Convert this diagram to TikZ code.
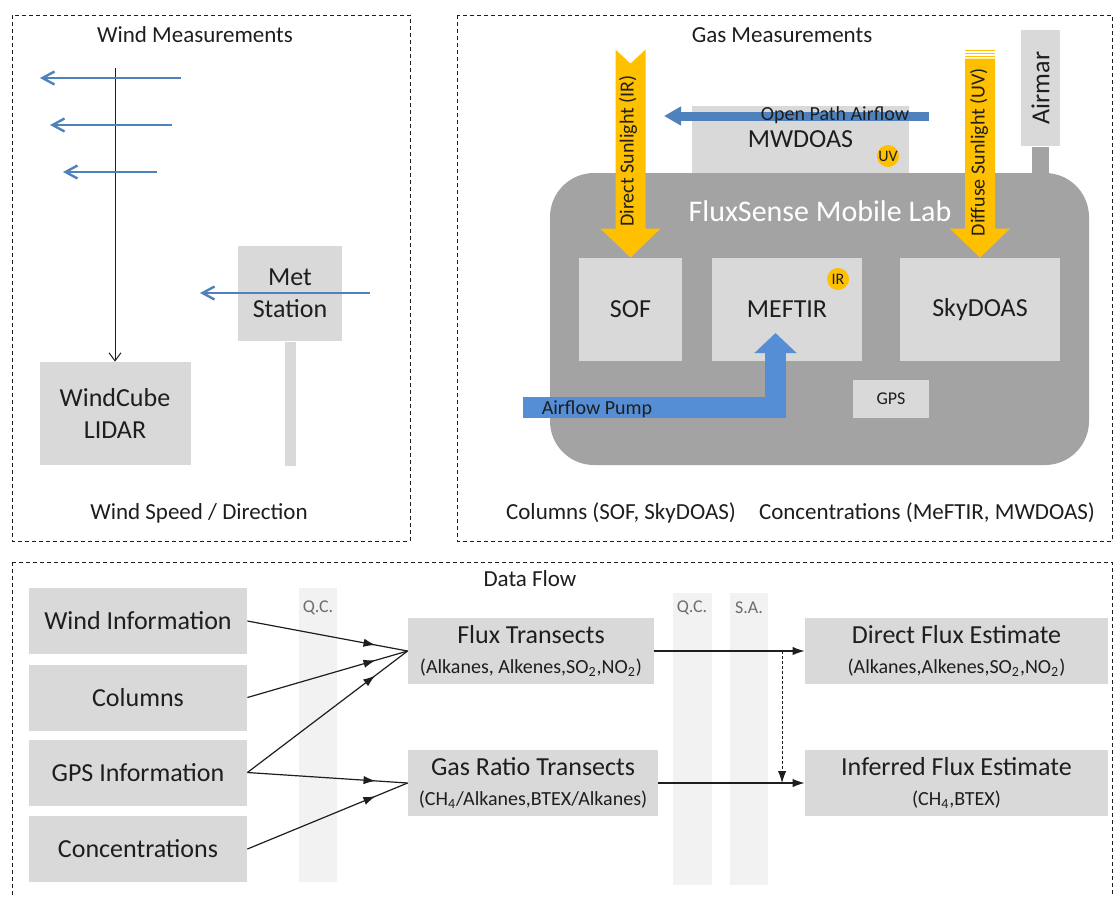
\documentclass[tikz,border=0pt]{standalone}
\usepackage{fontspec}
\setmainfont{Carlito}
\usetikzlibrary{arrows.meta,calc,decorations.markings}
\definecolor{ink}{RGB}{30,30,30}
\definecolor{panel}{RGB}{217,217,217}
\definecolor{chassis}{RGB}{163,163,163}
\definecolor{strip}{RGB}{242,242,242}
\definecolor{sun}{RGB}{255,192,0}
\definecolor{breeze}{RGB}{79,129,189}
\definecolor{pump}{RGB}{85,142,213}
\newcommand{\species}[1]{{\fontsize{10}{12}\selectfont #1}}
\tikzset{
  frame/.style={draw=ink,line width=0.5pt,dash pattern=on 2pt off 1.5pt},
  head/.style={font=\fontsize{11.5}{13}\selectfont,text=ink},
  unit/.style={fill=panel,inner sep=0pt,align=center,text=ink,font=\fontsize{13}{16}\selectfont},
  twoline/.style={unit,font=\fontsize{13}{15}\selectfont},
  band/.style={fill=strip,inner sep=0pt},
  tag/.style={font=\fontsize{9}{10}\selectfont,text=ink!65},
  badge/.style={circle,fill=sun,inner sep=0pt,minimum size=11pt,font=\fontsize{8}{8}\selectfont,text=ink},
  caption/.style={font=\fontsize{10}{12}\selectfont,text=ink},
  wind/.style={breeze,line width=1.2pt,-{Straight Barb[length=6pt,width=6.5pt]}},
  feed/.style={ink,line width=0.6pt,postaction={decorate},
    decoration={markings,mark=at position 0.8 with {\arrow{Latex[length=6pt,width=4.2pt]}}}},
  flow/.style={ink,line width=0.6pt,-{Latex[length=6pt,width=4.2pt]}},
  % light beams, tip at the origin
  pics/beam/.style={code={
    \fill[sun] (0,0) -- (-30,-29) -- (-15,-29) -- (-15,-208) -- (0,-194) -- (15,-208) -- (15,-29) -- (30,-29) -- cycle;
  }},
  pics/striped beam/.style={code={
    \fill[sun] (0,0) -- (-30,-29) -- (-15,-29) -- (-15,-199) -- (15,-199) -- (15,-29) -- (30,-29) -- cycle;
    \foreach \s in {200.5,203.5,206.5} \fill[sun] (-15,-\s) rectangle (15,-\s-1.5);
  }},
}
\begin{document}
\begin{tikzpicture}[x=0.5pt,y=-0.5pt]
  \useasboundingbox (0,0) rectangle (1114,896);
  \clip (0,0) rectangle (1114,896);
  \fill[white] (0,0) rectangle (1114,896);

  % wind measurements
  \draw[frame] (12,15) rectangle (410,541);
  \node[head] (windhead) at (195,35) {Wind Measurements};
  \node[unit,minimum width=52pt,minimum height=47.5pt] (met) at (290,293.5) {Met\\Station};
  \node[fill=panel,inner sep=0pt,minimum width=5.5pt,minimum height=62pt,anchor=north] (pole) at (met.south) {};
  \node[unit,minimum width=75.5pt,minimum height=51.5pt] (lidar) at (115,413.5) {WindCube\\LIDAR};
  \coordinate (mast) at (115,68);
  \draw[ink,line width=0.5pt,-{Straight Barb[length=4pt,width=6pt]}] (mast) -- (lidar);
  \foreach \y/\a/\b [count=\i] in {78/181/40,125/172/50,172/157/63}{
    \coordinate (gust\i) at (\a,\y); \coordinate (lull\i) at (\b,\y);
    \draw[wind] (gust\i) -- (lull\i);}
  \coordinate (metin) at (370,293); \coordinate (metout) at (200,293);
  \draw[wind] (metin) -- (metout);
  \node[head] (windfoot) at (199,513) {Wind Speed / Direction};

  % gas measurements
  \draw[frame] (457,15) rectangle (1112,541);
  \node[head] (gashead) at (782,35) {Gas Measurements};
  \node[unit,minimum width=108.5pt,minimum height=33.5pt] (mwdoas) at (800.5,139.5) {MWDOAS};
  \node[unit,rotate=90,minimum width=58pt,minimum height=19.5pt] (airmar) at (1040.5,88) {Airmar};
  \node[fill=chassis,inner sep=0pt,minimum width=8.5pt,minimum height=15pt,anchor=north] (stem) at (airmar.west) {};
  \node[fill=chassis,rounded corners=22pt,inner sep=0pt,minimum width=269.5pt,minimum height=146pt] (lab) at (819.5,319) {};
  \node[text=white,font=\fontsize{15}{18}\selectfont] (labname) at (820,211) {FluxSense Mobile Lab};
  \node[unit,minimum width=51.5pt,minimum height=51.5pt] (sof) at (630.5,309.5) {SOF};
  \node[unit,minimum width=75pt,minimum height=51.5pt] (meftir) at (787,309.5) {MEFTIR};
  \node[unit,minimum width=80pt,minimum height=51.5pt] (skydoas) at (980,309.5) {SkyDOAS};
  \node[unit,font=\fontsize{9}{10}\selectfont,minimum width=38pt,minimum height=19pt] (gps) at (891,399) {GPS};
  \node[badge] (ir) at (838,279) {IR};
  \node[badge] (uv) at (888,156) {UV};
  \pic at (sof.north) {beam};
  \pic at (skydoas.north) {striped beam};
  \node[caption,rotate=90] (directsun) at (628,151) {Direct Sunlight (IR)};
  \node[caption,rotate=90] (diffusesun) at (979,152) {Diffuse Sunlight (UV)};
  \coordinate (openin) at (929,116); \coordinate (openout) at (664,116);
  \draw[breeze,line width=4.5pt,-{Triangle[length=8.5pt,width=9pt]}] (openin) -- (openout);
  \node[caption] (openlabel) at (835,115) {Open Path Airflow};
  \coordinate (intake) at (523,407.5); \coordinate (nozzle) at (775.5,333);
  \draw[pump,line width=10.5pt,-{Triangle[length=10pt,width=20.5pt]}] (intake) -| (nozzle);
  \node[caption] (pumplabel) at (597,409) {Airflow Pump};
  \node[head] (colfoot) at (621,513) {Columns (SOF, SkyDOAS)};
  \node[head] (confoot) at (927,513) {Concentrations (MeFTIR, MWDOAS)};

  % data flow
  \draw[frame] (12,562) rectangle (1112,920);
  \node[head] (flowhead) at (530,579) {Data Flow};
  \node[band,minimum width=19pt,minimum height=147pt] (qc1) at (318,735) {};
  \node[band,minimum width=19.5pt,minimum height=146pt] (qc2) at (692.5,739) {};
  \node[band,minimum width=19pt,minimum height=146pt] (sa) at (749,739) {};
  \node[tag] at (318,608) {Q.C.};
  \node[tag] at (692,608) {Q.C.};
  \node[tag] at (749,608) {S.A.};
  \node[unit,minimum width=109pt,minimum height=33pt] (windinfo) at (138,621) {Wind Information};
  \node[unit,minimum width=109pt,minimum height=33pt] (columns) at (138,697.5) {Columns};
  \node[unit,minimum width=109pt,minimum height=33pt] (gpsinfo) at (138,772.5) {GPS Information};
  \node[unit,minimum width=109pt,minimum height=33pt] (conc) at (138,849) {Concentrations};
  \node[twoline,minimum width=123pt,minimum height=33pt] (fluxtr) at (531,651)
    {Flux Transects\\\species{(Alkanes, Alkenes,SO\textsubscript{2},NO\textsubscript{2})}};
  \node[twoline,minimum width=125pt,minimum height=33pt] (ratio) at (533,783)
    {Gas Ratio Transects\\\species{(CH\textsubscript{4}/Alkanes,BTEX/Alkanes)}};
  \node[twoline,minimum width=151.5pt,minimum height=33pt] (direct) at (956.5,651)
    {Direct Flux Estimate\\\species{(Alkanes,Alkenes,SO\textsubscript{2},NO\textsubscript{2})}};
  \node[twoline,minimum width=151.5pt,minimum height=33pt] (inferred) at (956.5,783)
    {Inferred Flux Estimate\\\species{(CH\textsubscript{4},BTEX)}};
  \draw[feed] (windinfo.east) -- (fluxtr.west);
  \draw[feed] (columns.east) -- (fluxtr.west);
  \draw[feed] (gpsinfo.east) -- (fluxtr.west);
  \draw[feed] (gpsinfo.east) -- (ratio.west);
  \draw[feed] (conc.east) -- (ratio.west);
  \draw[flow] (fluxtr.east) -- (direct.west);
  \draw[flow] (ratio.east) -- (inferred.west);
  \coordinate (tap) at ($(fluxtr.east)!0.85!(direct.west)$);
  \draw[flow,line width=0.5pt,dash pattern=on 1.5pt off 1pt] (tap) -- (tap |- inferred.west);
\end{tikzpicture}
\end{document}
